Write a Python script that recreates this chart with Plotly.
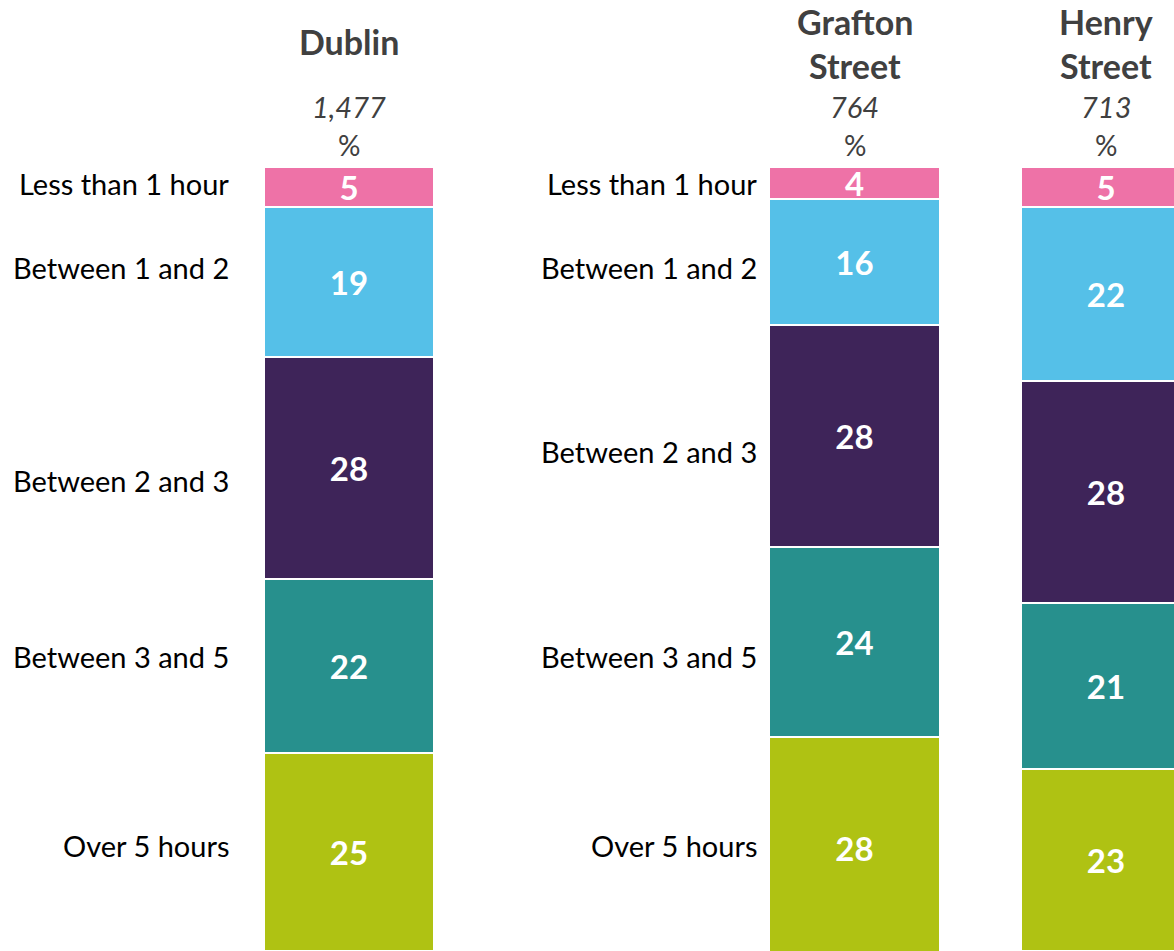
import plotly.graph_objects as go

# Data
categories = ["Less than 1 hour", "Between 1 and 2", "Between 2 and 3",
              "Between 3 and 5", "Over 5 hours"]
dublin = [5, 19, 28, 22, 25]
grafton = [4, 16, 28, 24, 28]
henry = [5, 22, 28, 21, 23]
headers = [["Dublin"], ["Grafton", "Street"], ["Henry", "Street"]]
bases = ["1,477", "764", "713"]
colors = ["#EE72A7", "#55C0E8", "#3E2459", "#27908D", "#AFC213"]

W, H = 1174, 951
FONT = "Lato"
TOP, PX_PER_PCT = 167, 7.92
BAR_PX = 170


def py(y):
    # pixel row -> paper coordinate
    return 1 - y / H


def pxx(x):
    # pixel column -> paper coordinate
    return x / W


fig = go.Figure()
axes = [("x", "y"), ("x2", "y2"), ("x3", "y3")]
for vals, (xa, ya) in zip([dublin, grafton, henry], axes):
    for i, cat in enumerate(categories):
        fig.add_trace(go.Bar(
            x=[0], y=[vals[i]], width=1, name=cat,
            marker=dict(color=colors[i], line=dict(color="white", width=2)),
            text=[vals[i]], textposition="inside", insidetextanchor="middle",
            textangle=0,
            textfont=dict(color="white", size=33, family=FONT, weight="bold"),
            xaxis=xa, yaxis=ya, showlegend=False, hoverinfo="y+name",
        ))

yr = [(H - TOP) / PX_PER_PCT, -TOP / PX_PER_PCT]
ax_y = dict(range=yr, visible=False, showgrid=False, zeroline=False)
# third bar runs past the right edge of the page
henry_px = W - 1021
fig.update_layout(
    width=W, height=H, barmode="stack",
    margin=dict(l=0, r=0, t=0, b=0),
    paper_bgcolor="white", plot_bgcolor="white",
    uniformtext=dict(minsize=33, mode="show"),
    xaxis=dict(domain=[pxx(264), pxx(434)], range=[-0.5, 0.5], visible=False),
    xaxis2=dict(domain=[pxx(769), pxx(940)], range=[-0.5, 0.5], visible=False),
    xaxis3=dict(domain=[pxx(1021), 1.0], range=[-0.5, -0.5 + henry_px / BAR_PX],
                visible=False),
    yaxis=dict(ax_y, anchor="x"),
    yaxis2=dict(ax_y, anchor="x2"),
    yaxis3=dict(ax_y, anchor="x3"),
)

# column headers, base sizes and % labels
header_rows = {1: [42], 2: [22, 65]}
for (xa, _), lines, base in zip(axes, headers, bases):
    rows = header_rows[len(lines)]
    for line, y in zip(lines, rows):
        fig.add_annotation(x=0, xref=xa, y=py(y), yref="paper", text="<b>" + line + "</b>",
                           showarrow=False, xanchor="center", yanchor="middle",
                           font=dict(family=FONT, size=34, color="#404040"))
    fig.add_annotation(x=0, xref=xa, y=py(107), yref="paper", text="<i>" + base + "</i>",
                       showarrow=False, xanchor="center", yanchor="middle",
                       font=dict(family=FONT, size=29, color="#404040"))
    fig.add_annotation(x=0, xref=xa, y=py(145), yref="paper", text="%",
                       showarrow=False, xanchor="center", yanchor="middle",
                       font=dict(family=FONT, size=28, color="#404040"))

# category labels left of the first two bars
label_rows = {231: [183, 267, 481, 656, 845], 759: [183, 267, 452, 656, 845]}
for xr, rows in label_rows.items():
    for cat, y in zip(categories, rows):
        fig.add_annotation(x=pxx(xr), xref="paper", y=py(y), yref="paper", text=cat,
                           showarrow=False, xanchor="right", yanchor="middle",
                           font=dict(family=FONT, size=29, color="#000000"))

# drop the default page margin so the figure fills the window
fig.write_html("out.html", config={"displayModeBar": False},
               post_script="document.body.style.margin='0';"
                           "document.body.style.overflow='hidden';")
